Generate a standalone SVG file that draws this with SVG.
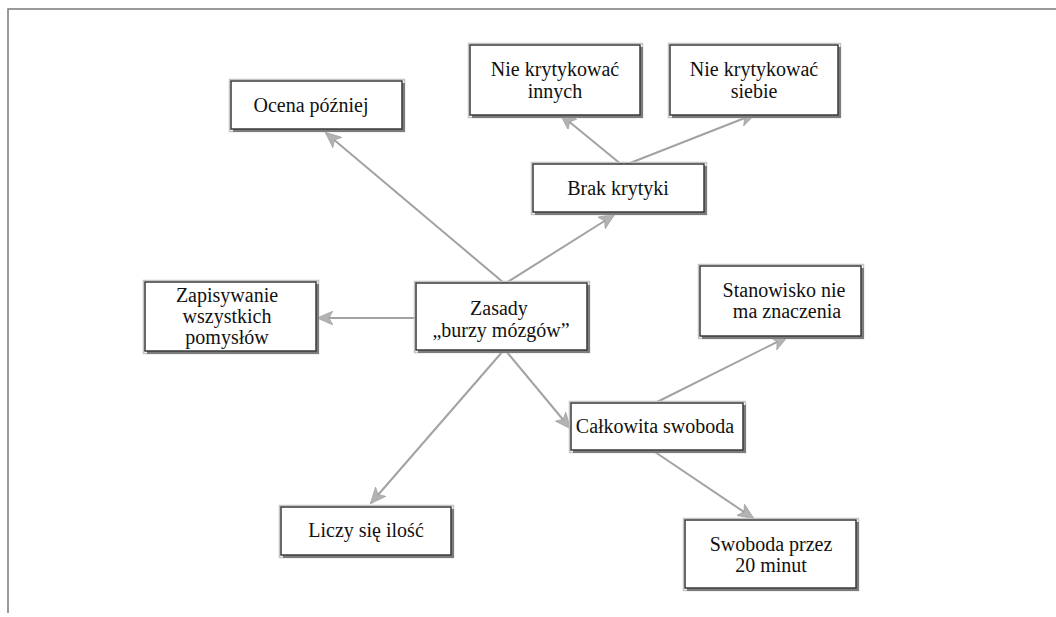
<svg xmlns="http://www.w3.org/2000/svg" width="1056" height="617" viewBox="0 0 1056 617">
  <style>
    .frame { fill: none; stroke: #7a7a7a; stroke-width: 1.5; }
    .halo { fill: none; stroke: #c4c4c4; stroke-width: 1.5; }
    .shadow { fill: #7c7c7c; }
    .box { fill: #ffffff; stroke: #3a3a3a; stroke-width: 1.5; }
    .label { font-size: 20px; fill: #111; text-anchor: middle; }
    .link { stroke: #a2a2a2; stroke-width: 2; fill: none; }
  </style>
  <defs>
    <marker id="arrow" markerUnits="userSpaceOnUse" markerWidth="18" markerHeight="14" refX="15" refY="7" orient="auto">
      <path d="M0,0 L16,7 L0,14 L4,7 Z" fill="#b2b2b2" stroke="#9a9a9a" stroke-width="0.6"/>
    </marker>
  </defs>
  <rect width="1056" height="617" fill="#ffffff"/>

  <!-- page frame (top and left edges) -->
  <path class="frame" d="M8,613 L8,9 L1056,9"/>

  <!-- connectors -->
  <g id="connectors">
    <line class="link" x1="504" y1="283" x2="326" y2="133" marker-end="url(#arrow)"/>
    <line class="link" x1="506" y1="283" x2="614" y2="215" marker-end="url(#arrow)"/>
    <line class="link" x1="622" y1="165" x2="561" y2="115" marker-end="url(#arrow)"/>
    <line class="link" x1="625" y1="165" x2="755" y2="114" marker-end="url(#arrow)"/>
    <line class="link" x1="416" y1="318" x2="318" y2="318" marker-end="url(#arrow)"/>
    <line class="link" x1="503" y1="351" x2="371" y2="503" marker-end="url(#arrow)"/>
    <line class="link" x1="506" y1="351" x2="570" y2="428" marker-end="url(#arrow)"/>
    <line class="link" x1="657" y1="402" x2="787" y2="337" marker-end="url(#arrow)"/>
    <line class="link" x1="655" y1="452" x2="753" y2="518" marker-end="url(#arrow)"/>
  </g>

  <!-- nodes -->
  <g font-family="Liberation Serif, Tinos, DejaVu Serif, serif">
  <g id="ocena">
    <rect class="halo" x="229.5" y="79.5" width="175" height="52"/>
    <rect class="shadow" x="233" y="83" width="172" height="49"/>
    <rect class="box" x="231" y="81" width="171" height="48"/>
    <text class="label" x="311" y="112">Ocena później</text>
  </g>

  <g id="nie-innych">
    <rect class="halo" x="468.5" y="43.5" width="174" height="74"/>
    <rect class="shadow" x="472" y="47" width="171" height="71"/>
    <rect class="box" x="470" y="45" width="170" height="70"/>
    <text class="label" x="555" y="76">Nie krytykować</text>
    <text class="label" x="555" y="98">innych</text>
  </g>

  <g id="nie-siebie">
    <rect class="halo" x="668.5" y="43.5" width="172" height="74"/>
    <rect class="shadow" x="672" y="47" width="169" height="71"/>
    <rect class="box" x="670" y="45" width="168" height="70"/>
    <text class="label" x="754" y="76">Nie krytykować</text>
    <text class="label" x="754" y="98">siebie</text>
  </g>

  <g id="brak-krytyki">
    <rect class="halo" x="531.5" y="162.5" width="175" height="52"/>
    <rect class="shadow" x="535" y="166" width="172" height="49"/>
    <rect class="box" x="533" y="164" width="171" height="48"/>
    <text class="label" x="618" y="195">Brak krytyki</text>
  </g>

  <g id="zapisywanie">
    <rect class="halo" x="143.5" y="280.5" width="175" height="73"/>
    <rect class="shadow" x="147" y="284" width="172" height="70"/>
    <rect class="box" x="145" y="282" width="171" height="69"/>
    <text class="label" x="227" y="302">Zapisywanie</text>
    <text class="label" x="227" y="323">wszystkich</text>
    <text class="label" x="227" y="344">pomysłów</text>
  </g>

  <g id="zasady">
    <rect class="halo" x="414.5" y="281.5" width="175" height="71"/>
    <rect class="shadow" x="418" y="285" width="172" height="68"/>
    <rect class="box" x="416" y="283" width="171" height="67"/>
    <text class="label" x="499" y="315">Zasady</text>
    <text class="label" x="501" y="337">„burzy mózgów”</text>
  </g>

  <g id="stanowisko">
    <rect class="halo" x="698.5" y="264.5" width="165" height="74"/>
    <rect class="shadow" x="702" y="268" width="162" height="71"/>
    <rect class="box" x="700" y="266" width="161" height="70"/>
    <text class="label" x="784" y="297">Stanowisko nie</text>
    <text class="label" x="787" y="318">ma znaczenia</text>
  </g>

  <g id="calkowita">
    <rect class="halo" x="569.5" y="401.5" width="176" height="51"/>
    <rect class="shadow" x="573" y="405" width="173" height="48"/>
    <rect class="box" x="571" y="403" width="172" height="47"/>
    <text class="label" x="655" y="433">Całkowita swoboda</text>
  </g>

  <g id="liczy">
    <rect class="halo" x="279.5" y="505.5" width="174" height="52"/>
    <rect class="shadow" x="283" y="509" width="171" height="49"/>
    <rect class="box" x="281" y="507" width="170" height="48"/>
    <text class="label" x="366" y="537">Liczy się ilość</text>
  </g>

  <g id="swoboda-20">
    <rect class="halo" x="683.5" y="518.5" width="175" height="72"/>
    <rect class="shadow" x="687" y="522" width="172" height="69"/>
    <rect class="box" x="685" y="520" width="171" height="68"/>
    <text class="label" x="771" y="551">Swoboda przez</text>
    <text class="label" x="771" y="572">20 minut</text>
  </g>
  </g>
</svg>
